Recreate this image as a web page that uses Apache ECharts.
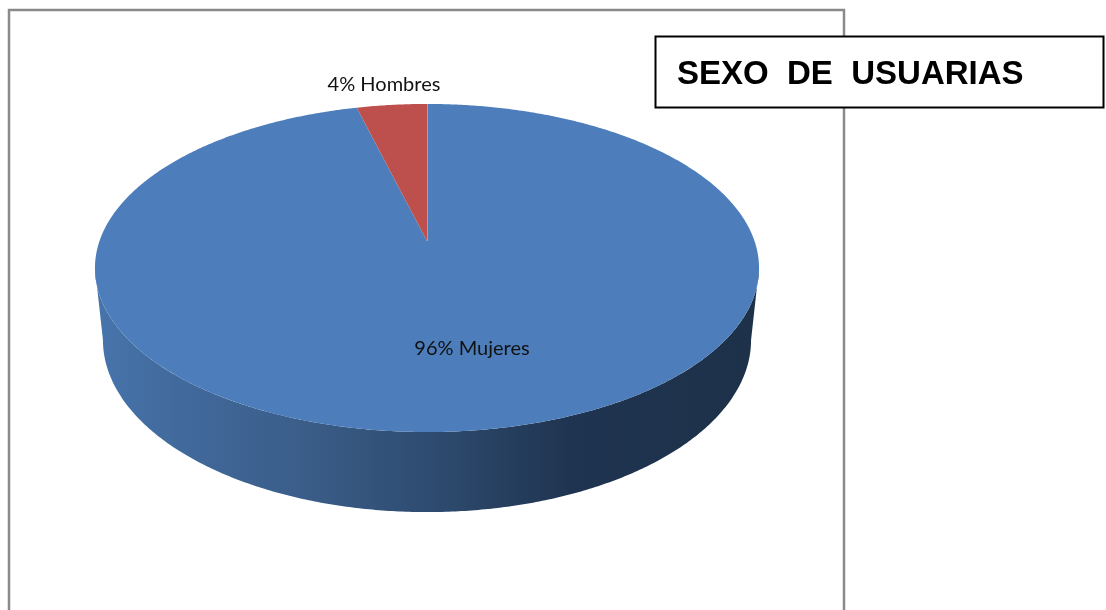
<!DOCTYPE html>
<html>
<head>
<meta charset="utf-8">
<style>html,body{margin:0;padding:0;background:#fff}#c{width:1106px;height:610px}</style>
<script src="https://cdn.jsdelivr.net/npm/echarts@6/dist/echarts.min.js"></script>
</head>
<body>
<div id="c"></div>
<script>
const categories = ['Mujeres', 'Hombres'];
const values = [96, 4];
const titleText = 'SEXO  DE  USUARIAS';

const sliceColors = ['#4d7ebb', '#bd4f4c'];
const labelPlacement = { Mujeres: [472, 349], Hombres: [384, 85] };

// Perspective view of the pie disc
const cx = 427, apexY = 241, k = 0.1646, A = 327.5, B = 159.6;
const rimCY = 268, sideDrop = 72, sideScaleX = 0.976, sideScaleY = 1.049;
const total = values.reduce((a, b) => a + b, 0);

function rim(theta) {
  const u = Math.sin(theta), v = Math.cos(theta), w = 1 + k * v;
  return [cx + A * u / w, apexY - B * v / w];
}
function rimBottom(theta) {
  const p = rim(theta);
  return [cx + (p[0] - cx) * sideScaleX, rimCY + sideDrop + (p[1] - rimCY) * sideScaleY];
}
function sliceRange(i) {
  const before = values.slice(0, i).reduce((a, b) => a + b, 0);
  return [before / total * 2 * Math.PI, (before + values[i]) / total * 2 * Math.PI];
}
function arcPoints(a0, a1, fn) {
  const n = Math.max(2, Math.ceil(Math.abs(a1 - a0) / (Math.PI / 360)));
  const pts = [];
  for (let j = 0; j <= n; j++) pts.push(fn(a0 + (a1 - a0) * j / n));
  return pts;
}
const frontStart = Math.acos(-k), frontEnd = 2 * Math.PI - frontStart;
const sideGradient = {
  type: 'linear', global: true, x: 100, y: 0, x2: 755, y2: 0,
  colorStops: [
    { offset: 0, color: '#4674ab' },
    { offset: 0.1, color: '#426b9e' },
    { offset: 0.3, color: '#3b5e8a' },
    { offset: 0.52, color: '#2d4a6e' },
    { offset: 0.72, color: '#1f3450' },
    { offset: 1, color: '#1d3149' }
  ]
};

function renderSide(params) {
  const r = sliceRange(params.dataIndex);
  const a0 = Math.max(r[0], frontStart), a1 = Math.min(r[1], frontEnd);
  if (a1 <= a0) return { type: 'group', children: [] };
  const points = arcPoints(a0, a1, rim).concat(arcPoints(a1, a0, rimBottom));
  return { type: 'polygon', shape: { points: points }, style: { fill: sideGradient } };
}
function renderTop(params) {
  const i = params.dataIndex;
  const r = sliceRange(i);
  const points = [[cx, apexY]].concat(arcPoints(r[0], r[1], rim));
  const children = [{ type: 'polygon', shape: { points: points }, style: { fill: sliceColors[i] } }];
  if (i === 0) {
    const edge = rim(r[0]);
    children.push({ type: 'line', z2: 5, shape: { x1: cx + 0.5, y1: apexY, x2: edge[0] + 0.5, y2: edge[1] }, style: { stroke: '#8ea8cd', lineWidth: 1 } });
  }
  return { type: 'group', children: children };
}
function renderLabel(params) {
  const i = params.dataIndex, name = categories[i], pos = labelPlacement[name];
  return {
    type: 'text',
    style: {
      x: pos[0], y: pos[1], text: Math.round(values[i] / total * 100) + '% ' + name,
      fill: '#111111', font: '20px Lato', align: 'center', verticalAlign: 'middle'
    }
  };
}

const rows = values.map((v, i) => ({ name: categories[i], value: v }));
const chart = echarts.init(document.getElementById('c'), null, { renderer: 'canvas' });
chart.setOption({
  animation: false,
  backgroundColor: '#ffffff',
  tooltip: { show: false },
  title: {
    text: titleText, left: 677, top: 57, z: 20, padding: 0,
    textStyle: { fontFamily: 'Liberation Sans', fontWeight: 'bold', fontSize: 33, color: '#000000', lineHeight: 36 }
  },
  graphic: [
    { type: 'rect', z: 0, shape: { x: 9, y: 10, width: 835, height: 640 }, style: { fill: '#ffffff', stroke: '#8a8a8a', lineWidth: 2.5 } },
    { type: 'rect', z: 10, shape: { x: 655.5, y: 36.5, width: 448, height: 71 }, style: { fill: '#ffffff', stroke: '#000000', lineWidth: 2 } }
  ],
  series: [
    { type: 'custom', coordinateSystem: 'none', z: 2, silent: true, data: rows, renderItem: renderSide },
    { type: 'custom', coordinateSystem: 'none', z: 3, silent: true, data: rows, renderItem: renderTop },
    { type: 'custom', coordinateSystem: 'none', z: 4, silent: true, data: rows, renderItem: renderLabel }
  ]
});
</script>
</body>
</html>
